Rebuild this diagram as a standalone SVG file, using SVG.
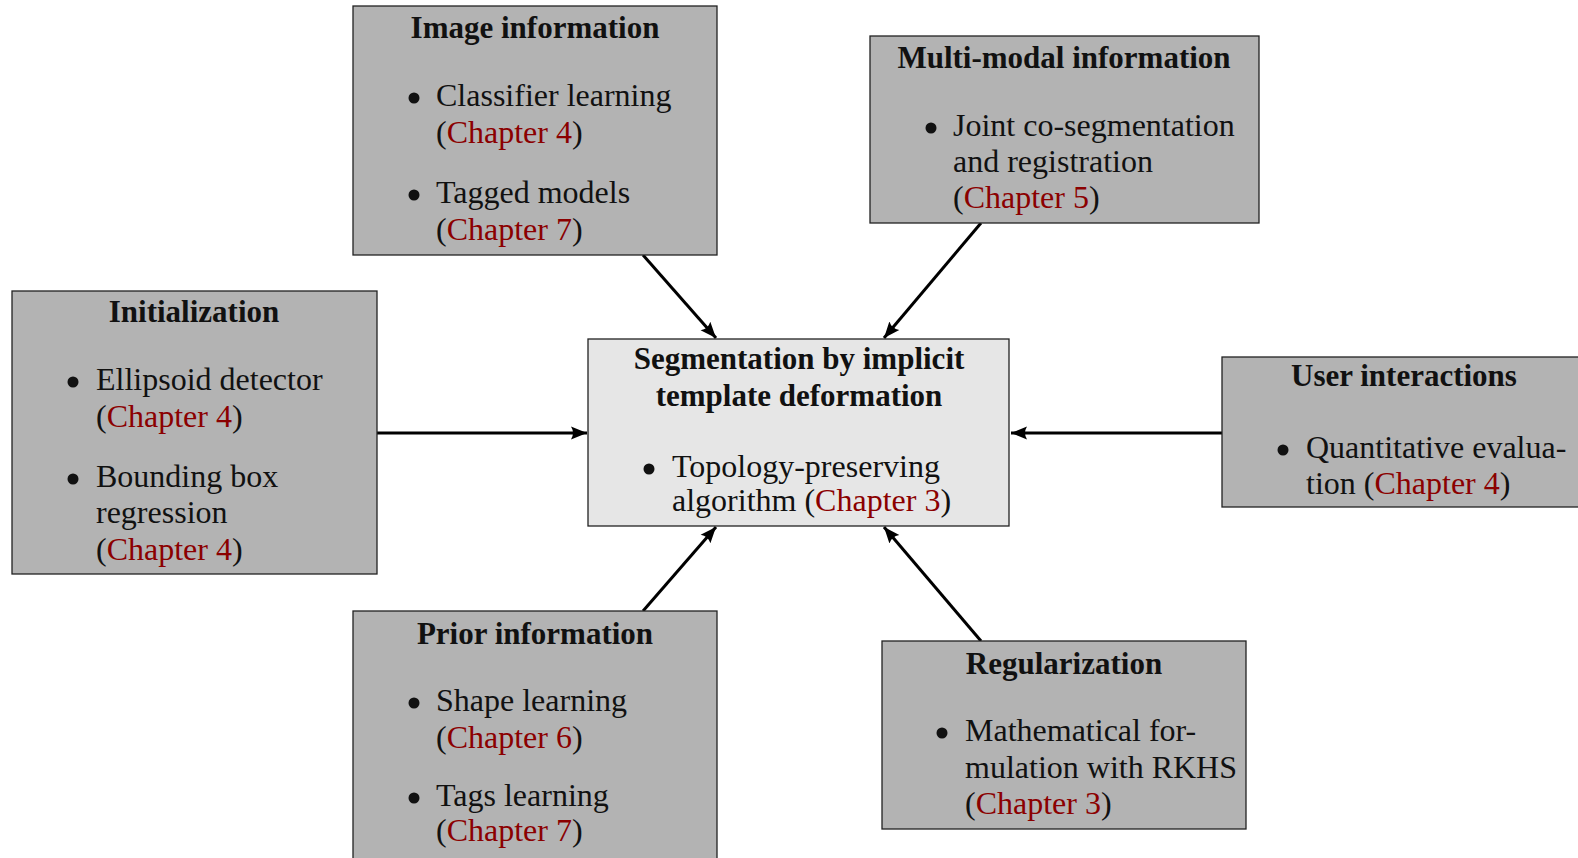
<svg xmlns="http://www.w3.org/2000/svg" width="1578" height="858" viewBox="0 0 1578 858">
<style>
.box{fill:#b3b3b3;stroke:#222;stroke-width:1.3}
.main{fill:#e6e6e6;stroke:#222;stroke-width:1.3}
text{font-family:"Liberation Serif","Times New Roman",serif;font-size:32px;fill:#111}
.t{font-weight:bold;text-anchor:middle;font-size:31px}
.r{fill:#8b0000}
.b{fill:#111}
.c{stroke:#000;stroke-width:3;fill:none;marker-end:url(#ah)}
</style>
<defs>
<marker id="ah" markerUnits="userSpaceOnUse" markerWidth="20" markerHeight="16" refX="16" refY="8" orient="auto">
<path d="M0,1.5 L16,8 L0,14.5 Q4,8 0,1.5 z" fill="#000"/>
</marker>
</defs>
<rect width="1578" height="858" fill="#fff"/>
<g id="connectors">
<path class="c" d="M377,433 L587,433"/>
<path class="c" d="M1222,433 L1011,433"/>
<path class="c" d="M643,255 L716,338"/>
<path class="c" d="M981,223 L884,338"/>
<path class="c" d="M643,611 L716,527"/>
<path class="c" d="M981,641 L884,527"/>
</g>
<g id="image-information">
<rect class="box" x="353" y="6" width="364" height="249"/>
<text class="t" x="535" y="38">Image information</text>
<circle class="b" cx="414" cy="98" r="5.5"/>
<text x="436" y="106">Classifier learning</text>
<text x="436" y="143">(<tspan class="r">Chapter 4</tspan>)</text>
<circle class="b" cx="414" cy="195" r="5.5"/>
<text x="436" y="203">Tagged models</text>
<text x="436" y="240">(<tspan class="r">Chapter 7</tspan>)</text>
</g>
<g id="multi-modal-information">
<rect class="box" x="870" y="36" width="389" height="187"/>
<text class="t" x="1064" y="68">Multi-modal information</text>
<circle class="b" cx="931" cy="128" r="5.5"/>
<text x="953" y="136">Joint co-segmentation</text>
<text x="953" y="172">and registration</text>
<text x="953" y="208">(<tspan class="r">Chapter 5</tspan>)</text>
</g>
<g id="initialization">
<rect class="box" x="12" y="291" width="365" height="283"/>
<text class="t" x="194" y="322">Initialization</text>
<circle class="b" cx="73" cy="382" r="5.5"/>
<text x="96" y="390">Ellipsoid detector</text>
<text x="96" y="427">(<tspan class="r">Chapter 4</tspan>)</text>
<circle class="b" cx="73" cy="479" r="5.5"/>
<text x="96" y="487">Bounding box</text>
<text x="96" y="523">regression</text>
<text x="96" y="560">(<tspan class="r">Chapter 4</tspan>)</text>
</g>
<g id="segmentation">
<rect class="main" x="588" y="339" width="421" height="187"/>
<text class="t" x="799" y="369">Segmentation by implicit</text>
<text class="t" x="799" y="406">template deformation</text>
<circle class="b" cx="649" cy="469" r="5.5"/>
<text x="672" y="477">Topology-preserving</text>
<text x="672" y="511">algorithm (<tspan class="r">Chapter 3</tspan>)</text>
</g>
<g id="user-interactions">
<rect class="box" x="1222" y="357" width="364" height="150"/>
<text class="t" x="1404" y="386">User interactions</text>
<circle class="b" cx="1283" cy="450" r="5.5"/>
<text x="1306" y="458">Quantitative evalua-</text>
<text x="1306" y="494">tion (<tspan class="r">Chapter 4</tspan>)</text>
</g>
<g id="prior-information">
<rect class="box" x="353" y="611" width="364" height="260"/>
<text class="t" x="535" y="644">Prior information</text>
<circle class="b" cx="414" cy="703" r="5.5"/>
<text x="436" y="711">Shape learning</text>
<text x="436" y="748">(<tspan class="r">Chapter 6</tspan>)</text>
<circle class="b" cx="414" cy="798" r="5.5"/>
<text x="436" y="806">Tags learning</text>
<text x="436" y="841">(<tspan class="r">Chapter 7</tspan>)</text>
</g>
<g id="regularization">
<rect class="box" x="882" y="641" width="364" height="188"/>
<text class="t" x="1064" y="674">Regularization</text>
<circle class="b" cx="942" cy="733" r="5.5"/>
<text x="965" y="741">Mathematical for-</text>
<text x="965" y="778">mulation with RKHS</text>
<text x="965" y="814">(<tspan class="r">Chapter 3</tspan>)</text>
</g>
</svg>
